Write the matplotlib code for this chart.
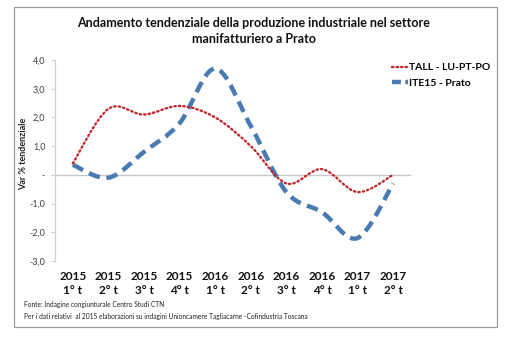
import matplotlib
matplotlib.use("Agg")
import matplotlib.pyplot as plt
from matplotlib.path import Path
from matplotlib.patches import PathPatch, Rectangle
from matplotlib.lines import Line2D

# Quarterly year-on-year change (%) of manufacturing output
quarters = ["2015\n1° t", "2015\n2° t", "2015\n3° t", "2015\n4° t", "2016\n1° t",
            "2016\n2° t", "2016\n3° t", "2016\n4° t", "2017\n1° t", "2017\n2° t"]
tall_lu_pt_po = [0.4, 2.3, 2.1, 2.4, 2.0, 1.0, -0.3, 0.2, -0.6, 0.0]
ite15_prato = [0.35, -0.1, 0.8, 1.8, 3.7, 1.7, -0.6, -1.3, -2.2, -0.3]
y_ticks = [4, 3, 2, 1, 0, -1, -2, -3]
y_tick_labels = ["4,0", "3,0", "2,0", "1,0", "-", "-1,0", "-2,0", "-3,0"]

RED = "#C0282D"
BLUE = "#4A7AB2"
FONT = "Lato"


def smooth_path(xs, ys):
    """Cubic Bezier path through the points (Catmull-Rom style tangents)."""
    pts = list(zip(xs, ys))
    n = len(pts)
    verts = [pts[0]]
    codes = [Path.MOVETO]
    for i in range(n - 1):
        p0 = pts[i - 1] if i > 0 else pts[i]
        p1 = pts[i]
        p2 = pts[i + 1]
        p3 = pts[i + 2] if i + 2 < n else pts[i + 1]
        c1 = (p1[0] + (p2[0] - p0[0]) / 6, p1[1] + (p2[1] - p0[1]) / 6)
        c2 = (p2[0] - (p3[0] - p1[0]) / 6, p2[1] - (p3[1] - p1[1]) / 6)
        verts += [c1, c2, p2]
        codes += [Path.CURVE4] * 3
    return Path(verts, codes)


fig = plt.figure(figsize=(5.18, 3.40), dpi=100)
fig.patch.set_facecolor("white")

# Outer chart frame
fig.patches.append(Rectangle((14 / 518, 1 - 327 / 340), 483 / 518, 320 / 340,
                             transform=fig.transFigure, fill=False,
                             edgecolor="#9A9A9A", linewidth=0.9))

ax = fig.add_axes([55 / 518, 1 - 261 / 340, 356 / 518, 201 / 340])
ax.set_xlim(-0.5, len(quarters) - 0.5)
ax.set_ylim(-3, 4)

x = list(range(len(quarters)))
ax.axhline(0, color="#C8C8C8", linewidth=1.0, zorder=1)

red_patch = PathPatch(smooth_path(x, tall_lu_pt_po), fill=False, edgecolor=RED,
                      linewidth=1.7, linestyle=(0, (0.6, 1.3)), capstyle="round",
                      zorder=3)
blue_patch = PathPatch(smooth_path(x, ite15_prato), fill=False, edgecolor=BLUE,
                       linewidth=3.2, linestyle=(0, (2.6, 1.5)), capstyle="butt",
                       zorder=2)
ax.add_patch(blue_patch)
ax.add_patch(red_patch)

for s in ["top", "right", "bottom"]:
    ax.spines[s].set_visible(False)
ax.spines["left"].set_color("#D0D0D0")
ax.spines["left"].set_linewidth(0.9)

ax.set_yticks(y_ticks)
ax.set_yticklabels(y_tick_labels, fontfamily=FONT, fontsize=6.5, color="#404040")
ax.tick_params(axis="y", length=3, width=0.8, color="#D0D0D0", pad=4)

ax.set_xticks(x)
ax.set_xticklabels(quarters, fontfamily=FONT, fontsize=8.5, fontweight="bold",
                   color="#111111", linespacing=1.35)
ax.tick_params(axis="x", length=0, pad=7)

ax.set_ylabel("Var % tendenziale", fontfamily=FONT, fontsize=6.5,
              fontweight="bold", color="#222222")
ax.yaxis.set_label_coords((28 - 55) / 356, (261 - 154) / 201)

fig.text(0.49, 1 - 31 / 340, "Andamento tendenziale della produzione industriale nel settore\nmanifatturiero a Prato",
         ha="center", va="center", fontfamily=FONT, fontsize=9, fontweight="bold",
         color="#111111", linespacing=1.35)

handles = [Line2D([], [], color=RED, linewidth=1.7, linestyle=(0, (0.6, 1.3)),
                  dash_capstyle="round"),
           Line2D([], [], color=BLUE, linewidth=3.2, linestyle=(0, (2.0, 1.0)))]
leg = fig.legend(handles, ["TALL - LU-PT-PO", "ITE15 - Prato"],
                 loc="upper left", bbox_to_anchor=(388 / 518, 1 - 59 / 340),
                 frameon=False, handlelength=1.5, handletextpad=0.1,
                 labelspacing=0.6, borderaxespad=0,
                 prop={"family": FONT, "size": 7.5, "weight": "bold"})

fig.text(24 / 518, 1 - 305 / 340, "Fonte: Indagine congiunturale Centro Studi CTN",
         fontfamily=FONT, fontsize=4.8, color="#222222", va="center")
fig.text(24 / 518, 1 - 316 / 340,
         "Per i dati relativi  al 2015 elaborazioni su indagini Unioncamere Tagliacarne -Cofindustria Toscana",
         fontfamily=FONT, fontsize=4.8, color="#222222", va="center")

fig.savefig("out.png", dpi=100, facecolor="white")
